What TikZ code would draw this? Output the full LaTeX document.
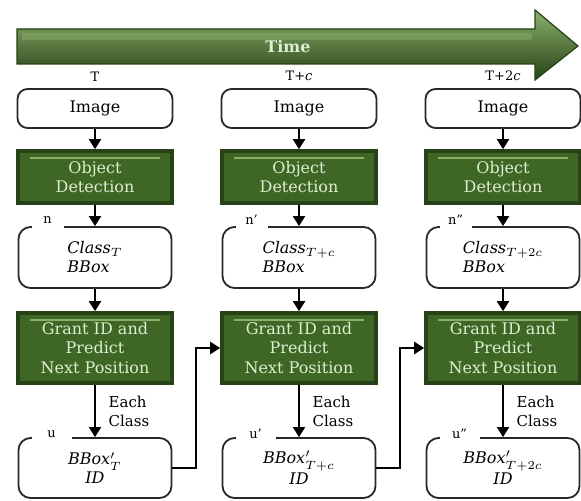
\documentclass[tikz,border=0pt]{standalone}
\usepackage{fontspec}
\setmainfont{DejaVu Serif}
\usetikzlibrary{arrows.meta,calc,positioning}
\definecolor{boxgreen}{RGB}{62,102,37}
\definecolor{edgegreen}{RGB}{38,66,22}
\definecolor{litegreen}{RGB}{140,176,108}
\definecolor{txtgreen}{RGB}{222,238,208}
\definecolor{linegray}{RGB}{40,40,40}

\begin{document}
\begin{tikzpicture}[x=0.5pt,y=-0.5pt]
\tikzstyle{whitebox} = [draw=linegray, line width=0.9pt, fill=white, rounded corners=5pt, minimum width=77.5pt, minimum height=19.5pt, inner sep=2pt, font=\fontsize{8}{9.6}\selectfont]
\tikzstyle{greenbox} = [draw=edgegreen, line width=1.8pt, fill=boxgreen, text=txtgreen, minimum width=77pt, align=center, inner sep=2pt, font=\fontsize{8}{9.6}\selectfont,
  path picture={\draw[litegreen, line width=1pt] ([xshift=6pt,yshift=-3.5pt]path picture bounding box.north west) -- ([xshift=-6pt,yshift=-3.5pt]path picture bounding box.north east);}]
\tikzstyle{infobox} = [whitebox, rounded corners=6pt, minimum width=76.5pt, minimum height=30.5pt, font=\fontsize{8}{9.5}\selectfont\itshape]
\tikzstyle{gaplbl} = [fill=white, inner sep=0pt, minimum width=16pt, minimum height=10pt, font=\fontsize{6.5}{7}\selectfont]
\tikzstyle{flow} = [-{Triangle[length=5pt,width=6pt]}, line width=1pt]

\useasboundingbox (0,0) rectangle (581,501);

% time arrow
\shade[top color=litegreen, middle color=boxgreen, bottom color=edgegreen, draw=edgegreen, line width=0.6pt]
  (17,29) -- (535,29) -- (535,10) -- (578,46) -- (535,80) -- (535,64) -- (17,64) -- cycle;
\fill[litegreen, opacity=0.45] (22,33) rectangle (532,40);
\node[font=\bfseries\fontsize{8}{9}\selectfont, text=txtgreen] (time) at (288,47) {Time};

\foreach \i/\x/\tm/\sub/\pr in {1/95/T/T/{}, 2/299/{T+\textit{c}}/{T+c}/{'}, 3/503/{T+2\textit{c}}/{T+2c}/{''}}
{
  \node[whitebox] (img\i) at (\x,108.5) {Image};
  \node[font=\fontsize{6.5}{7}\selectfont, above=0pt of img\i] (tm\i) {\tm};
  \node[greenbox, minimum height=26pt] (od\i) at (\x,177) {Object\\Detection};
  \node[infobox, align=left] (cls\i) at (\x,257.5) {Class$_{\sub}$\\BBox};
  \node[greenbox, minimum height=35pt] (gr\i) at (\x,348) {Grant ID and\\Predict\\Next Position};
  \node[infobox, align=center, minimum height=30pt] (bb\i) at (\x,468) {BBox$'_{\sub}$\\ID};
  \node[gaplbl] (n\i) at ([xshift=15pt,yshift=3pt]cls\i.north west) {n\pr};
  \node[gaplbl, minimum width=20pt] (u\i) at ([xshift=17pt,yshift=1.5pt]bb\i.north west) {u\pr};
  \draw[flow] (img\i) -- (od\i);
  \draw[flow] (od\i) -- (cls\i);
  \draw[flow] (cls\i) -- (gr\i);
  \draw[flow] (gr\i) -- node[right, align=left, xshift=3pt, font=\fontsize{7.5}{9.5}\selectfont] (ec\i) {Each\\Class} (bb\i);
}

% hand over to next step
\foreach \a/\b in {1/2,2/3}
  \draw[flow] (bb\a.east) -| ($(bb\a.east)!0.5!(gr\b.west)$) |- (gr\b.west);
\end{tikzpicture}
\end{document}
